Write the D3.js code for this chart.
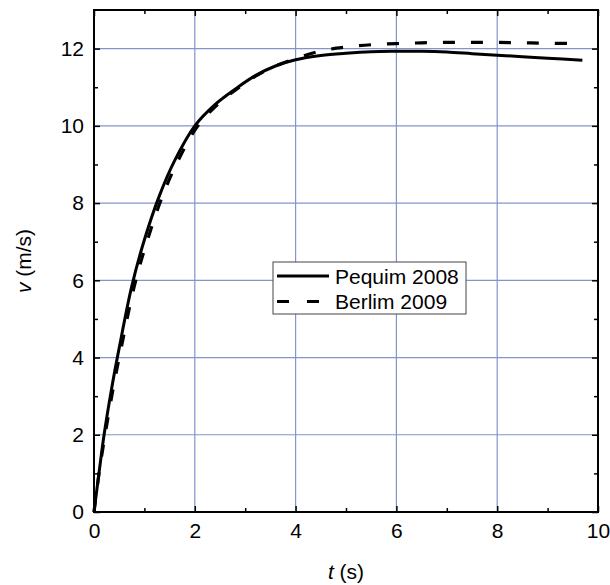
<!DOCTYPE html>
<html><head><meta charset="utf-8">
<script src="https://cdn.jsdelivr.net/npm/d3@7"></script>
<style>body{margin:0;background:#fff}svg{display:block;font-family:"Liberation Sans",Arial,sans-serif}</style>
</head><body>
<script>
const pequimT = [0,0.1,0.2,0.35,0.5,0.75,1.0,1.3,1.6,2.0,2.4,2.8,3.2,3.6,4.0,4.5,5.0,5.5,6.0,6.5,7.0,7.5,8.0,8.5,9.0,9.69];
const pequimV = [0,1.02,2.0,3.2,4.25,5.85,7.05,8.2,9.1,10.0,10.55,10.95,11.3,11.55,11.71,11.82,11.88,11.92,11.93,11.93,11.91,11.87,11.83,11.79,11.75,11.70];
const berlimT = [0,0.1,0.22,0.38,0.54,0.8,1.05,1.35,1.65,2.05,2.45,2.85,3.25,3.6,4.0,4.5,5.0,5.5,6.0,6.5,7.0,7.5,8.0,8.5,9.0,9.58];
const berlimV = [0,1.0,2.0,3.2,4.25,5.85,7.0,8.15,9.05,9.98,10.55,10.97,11.32,11.55,11.74,11.94,12.04,12.10,12.13,12.15,12.16,12.16,12.16,12.15,12.14,12.13];
const seriesNames = ["Pequim 2008","Berlim 2009"];
const xTicks = [0,2,4,6,8,10];
const yTicks = [0,2,4,6,8,10,12];
const xMinor = [1,3,5,7,9];
const yMinor = [1,3,5,7,9,11];

(function(){
const W=610,H=585;
const svg=d3.select("body").append("svg").attr("width",W).attr("height",H);
const x=d3.scaleLinear().domain([0,10]).range([94,598]);
const y=d3.scaleLinear().domain([0,13]).range([512,10]);
const gridColor="#8494cc";
const fs=21;

// grid
const g=svg.append("g");
g.selectAll(".gx").data(xTicks.slice(1,-1)).join("line")
 .attr("x1",d=>x(d)).attr("x2",d=>x(d)).attr("y1",y(0)).attr("y2",y(13))
 .attr("stroke",gridColor).attr("stroke-width",1.2);
g.selectAll(".gy").data(yTicks.slice(1)).join("line")
 .attr("y1",d=>y(d)).attr("y2",d=>y(d)).attr("x1",x(0)).attr("x2",x(10))
 .attr("stroke",gridColor).attr("stroke-width",1.2);

// curves
const line=d3.line().x(d=>x(d[0])).y(d=>y(d[1])).curve(d3.curveCatmullRom.alpha(0.5));
const pequim=pequimT.map((t,i)=>[t,pequimV[i]]);
const berlim=berlimT.map((t,i)=>[t,berlimV[i]]);
svg.append("path").datum(berlim).attr("d",line).attr("fill","none")
 .attr("stroke","#000").attr("stroke-width",3.2).attr("stroke-dasharray","12,16");
svg.append("path").datum(pequim).attr("d",line).attr("fill","none")
 .attr("stroke","#000").attr("stroke-width",3);

// axes
function styleAxis(sel){sel.select(".domain").remove();sel.selectAll("line").attr("stroke","#000").attr("stroke-width",1.5);sel.selectAll("text").attr("font-size",fs).attr("fill","#000").attr("font-family","Liberation Sans, Arial, sans-serif");}
function addAxis(axis,tx,ty){const s=svg.append("g").attr("transform",`translate(${tx},${ty})`).call(axis);styleAxis(s);return s;}
addAxis(d3.axisBottom(x).tickValues(xTicks).tickSizeInner(-6).tickSizeOuter(0).tickPadding(11).tickFormat(d3.format("d")),0,y(0));
addAxis(d3.axisBottom(x).tickValues(xMinor).tickSizeInner(-4).tickSizeOuter(0).tickFormat(""),0,y(0));
addAxis(d3.axisTop(x).tickValues(xTicks).tickSizeInner(-6).tickSizeOuter(0).tickFormat(""),0,y(13));
addAxis(d3.axisTop(x).tickValues(xMinor).tickSizeInner(-4).tickSizeOuter(0).tickFormat(""),0,y(13));
addAxis(d3.axisLeft(y).tickValues(yTicks).tickSizeInner(-6).tickSizeOuter(0).tickPadding(10).tickFormat(d3.format("d")),x(0),0);
addAxis(d3.axisLeft(y).tickValues(yMinor).tickSizeInner(-4).tickSizeOuter(0).tickFormat(""),x(0),0);
addAxis(d3.axisRight(y).tickValues(yTicks).tickSizeInner(-6).tickSizeOuter(0).tickFormat(""),x(10),0);
addAxis(d3.axisRight(y).tickValues(yMinor).tickSizeInner(-4).tickSizeOuter(0).tickFormat(""),x(10),0);

// frame
svg.append("rect").attr("x",x(0)).attr("y",y(13)).attr("width",x(10)-x(0)).attr("height",y(0)-y(13))
 .attr("fill","none").attr("stroke","#000").attr("stroke-width",2);

// axis titles
const xt=svg.append("text").attr("x",(x(0)+x(10))/2).attr("y",579).attr("text-anchor","middle").attr("font-size",fs);
xt.append("tspan").attr("font-style","italic").text("t");
xt.append("tspan").text(" (s)");
const yt=svg.append("text").attr("transform",`translate(31,${(y(0)+y(13))/2}) rotate(-90)`).attr("text-anchor","middle").attr("font-size",fs);
yt.append("tspan").attr("font-style","italic").text("v");
yt.append("tspan").text(" (m/s)");

// legend
const lg=svg.append("g");
lg.append("rect").attr("x",273).attr("y",262).attr("width",193).attr("height",52)
 .attr("fill","#fff").attr("stroke","#444").attr("stroke-width",1);
const dashes=[null,"12,18"];
seriesNames.forEach((n,i)=>{
 const yy=276+i*25.5;
 lg.append("line").attr("x1",277).attr("x2",329).attr("y1",yy).attr("y2",yy)
  .attr("stroke","#000").attr("stroke-width",3).attr("stroke-dasharray",dashes[i]);
 lg.append("text").attr("x",335).attr("y",yy+7.5).attr("font-size",fs).text(n);
});
})();
</script>
</body></html>
